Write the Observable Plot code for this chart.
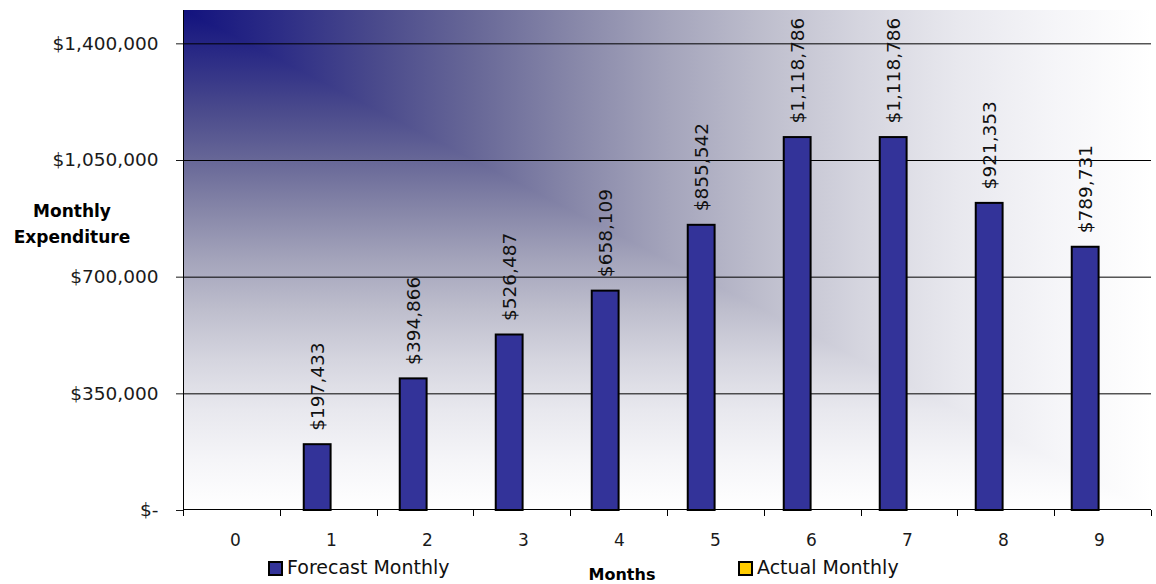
<!DOCTYPE html>
<html><head><meta charset="utf-8">
<script src="https://cdn.jsdelivr.net/npm/d3@7"></script>
<script src="https://cdn.jsdelivr.net/npm/@observablehq/plot@0.6"></script>
<style>
body{margin:0;background:#fff;font-family:"DejaVu Sans",sans-serif;}
#wrap{position:relative;width:1156px;height:584px;overflow:hidden;}
#wrap svg{position:absolute;left:0;top:0;}
.abs{position:absolute;white-space:nowrap;color:#000;}
</style></head><body><div id="wrap"></div>
<script>
// ---- data ----
const months = ["0","1","2","3","4","5","6","7","8","9"];
const forecast = [0,197433,394866,526487,658109,855542,1118786,1118786,921353,789731];
const actual = [null,null,null,null,null,null,null,null,null,null];
const yTicks = [0,350000,700000,1050000,1400000];
const seriesNames = ["Forecast Monthly","Actual Monthly"];
const seriesColors = ["#333399","#FFCC00"];
const yTitle = ["Monthly","Expenditure"];
const xTitle = "Months";

// ---- layout ----
const W = 1156, H = 584, mL = 183, mR = 5, mT = 10, mB = 74;
const n = months.length;
const band = (W - mL - mR) / n;
const barW = band / 3.5;           // Excel gap width 150%
const gapL = (band - 2 * barW) / 2;

const data = months.map((m, i) => ({month: m, forecast: forecast[i], actual: actual[i]}));
const fmtVal = v => "$" + d3.format(",")(v);
const fmtTick = v => v === 0 ? "$-" : fmtVal(v);

const stops = [[0,"#12127e"],[0.1,"#2d2d86"],[0.2,"#4a4a8c"],[0.3,"#676797"],[0.4,"#8686a8"],
  [0.5,"#a4a4bb"],[0.6,"#bebecd"],[0.7,"#d5d5df"],[0.8,"#e8e8ee"],[0.9,"#f5f5f8"],[1,"#ffffff"]];

const NS = "http://www.w3.org/2000/svg";
function mkEl(doc, tag, attrs) { const e = doc.createElementNS(NS, tag); for (const k in attrs) e.setAttribute(k, attrs[k]); return e; }

function bgMark(index, scales, values, dims, context) {
  const doc = context.document;
  const x0 = dims.marginLeft, x1 = dims.width - dims.marginRight, y0 = dims.marginTop, y1 = dims.height - dims.marginBottom;
  const g = mkEl(doc, "g", {});
  const defs = mkEl(doc, "defs", {});
  const mk = (id, a1, b1, a2, b2) => {
    const lg = mkEl(doc, "linearGradient", {id, gradientUnits: "userSpaceOnUse", x1: a1, y1: b1, x2: a2, y2: b2});
    for (const [o, c] of stops) lg.appendChild(mkEl(doc, "stop", {offset: o, "stop-color": c}));
    defs.appendChild(lg);
  };
  mk("bgV", x0, y0, x0, y1);
  mk("bgH", x0, y0, x1, y0);
  g.appendChild(defs);
  g.appendChild(mkEl(doc, "rect", {x: x0, y: y0, width: x1 - x0, height: y1 - y0, fill: "url(#bgV)"}));
  g.appendChild(mkEl(doc, "polygon", {points: `${x0},${y0} ${x1},${y0} ${x1},${y1}`, fill: "url(#bgH)"}));
  return g;
}

function axesMark(index, scales, values, dims, context) {
  const doc = context.document;
  const x0 = dims.marginLeft, x1 = dims.width - dims.marginRight, y0 = dims.marginTop, y1 = dims.height - dims.marginBottom;
  const g = mkEl(doc, "g", {stroke: "#000", "stroke-width": 1, fill: "none"});
  g.appendChild(mkEl(doc, "line", {x1: x0 + 0.5, x2: x0 + 0.5, y1: y0, y2: y1}));
  g.appendChild(mkEl(doc, "line", {x1: x0, x2: x1, y1: y1 - 0.5, y2: y1 - 0.5}));
  const step = (x1 - x0) / months.length;
  for (let i = 0; i <= months.length; i++) {
    const x = Math.round(x0 + i * step) + 0.5;
    g.appendChild(mkEl(doc, "line", {x1: x, x2: x, y1: y1, y2: y1 + 6}));
  }
  return g;
}

const plot = Plot.plot({
  width: W, height: H, marginLeft: mL, marginRight: mR, marginTop: mT, marginBottom: mB,
  style: {fontFamily: '"DejaVu Sans", sans-serif', fontSize: "18px", background: "transparent", color: "#1a1a1a"},
  x: {type: "band", domain: months, padding: 0, label: null},
  y: {domain: [0, 1500000], label: null},
  marks: [
    bgMark,
    Plot.ruleY(yTicks.filter(d => d > 0), {stroke: "#000", strokeWidth: 1}),
    Plot.barY(data.filter(d => d.forecast > 0), {x: "month", y: "forecast", fill: seriesColors[0], stroke: "#000", strokeWidth: 2,
      insetLeft: gapL, insetRight: band - gapL - barW}),
    Plot.barY(data.filter(d => d.actual > 0), {x: "month", y: "actual", fill: seriesColors[1], stroke: "#000", strokeWidth: 2,
      insetLeft: gapL + barW, insetRight: gapL}),
    Plot.text(data.filter(d => d.forecast > 0), {x: "month", y: "forecast", text: d => fmtVal(d.forecast), rotate: -90,
      textAnchor: "start", dx: -barW / 2, dy: -14, fontSize: 18.5, fill: "#111"}),
    Plot.axisY({ticks: yTicks, tickSize: 7, tickPadding: 18, tickFormat: fmtTick, fontSize: 18.5, label: null}),
    Plot.axisX({tickSize: 0, tickPadding: 23, fontSize: 17, label: null}),
    axesMark
  ]
});

const wrap = document.getElementById("wrap");
wrap.appendChild(plot);

function addDiv(text, css) {
  const d = document.createElement("div");
  d.className = "abs";
  d.textContent = text;
  Object.assign(d.style, css);
  wrap.appendChild(d);
  return d;
}
// y title (two lines, centred)
const yt = addDiv("", {left: "0px", width: "144px", top: "198px", textAlign: "center", fontWeight: "bold", fontSize: "17px", lineHeight: "26px"});
yt.innerHTML = yTitle.join("<br>");
// x title
addDiv(xTitle, {left: "522px", width: "200px", top: "565px", textAlign: "center", fontWeight: "bold", fontSize: "16px", lineHeight: "20px"});
// legend
const legendX = [268, 738];
seriesNames.forEach((name, i) => {
  const sw = document.createElement("div");
  sw.className = "abs";
  Object.assign(sw.style, {left: legendX[i] + "px", top: "561px", width: "15px", height: "15px", boxSizing: "border-box",
    border: "2px solid #000", background: seriesColors[i]});
  wrap.appendChild(sw);
  addDiv(name, {left: (legendX[i] + 19) + "px", top: "557px", fontSize: "19px", lineHeight: "20px", color: "#111"});
});
</script></body></html>
